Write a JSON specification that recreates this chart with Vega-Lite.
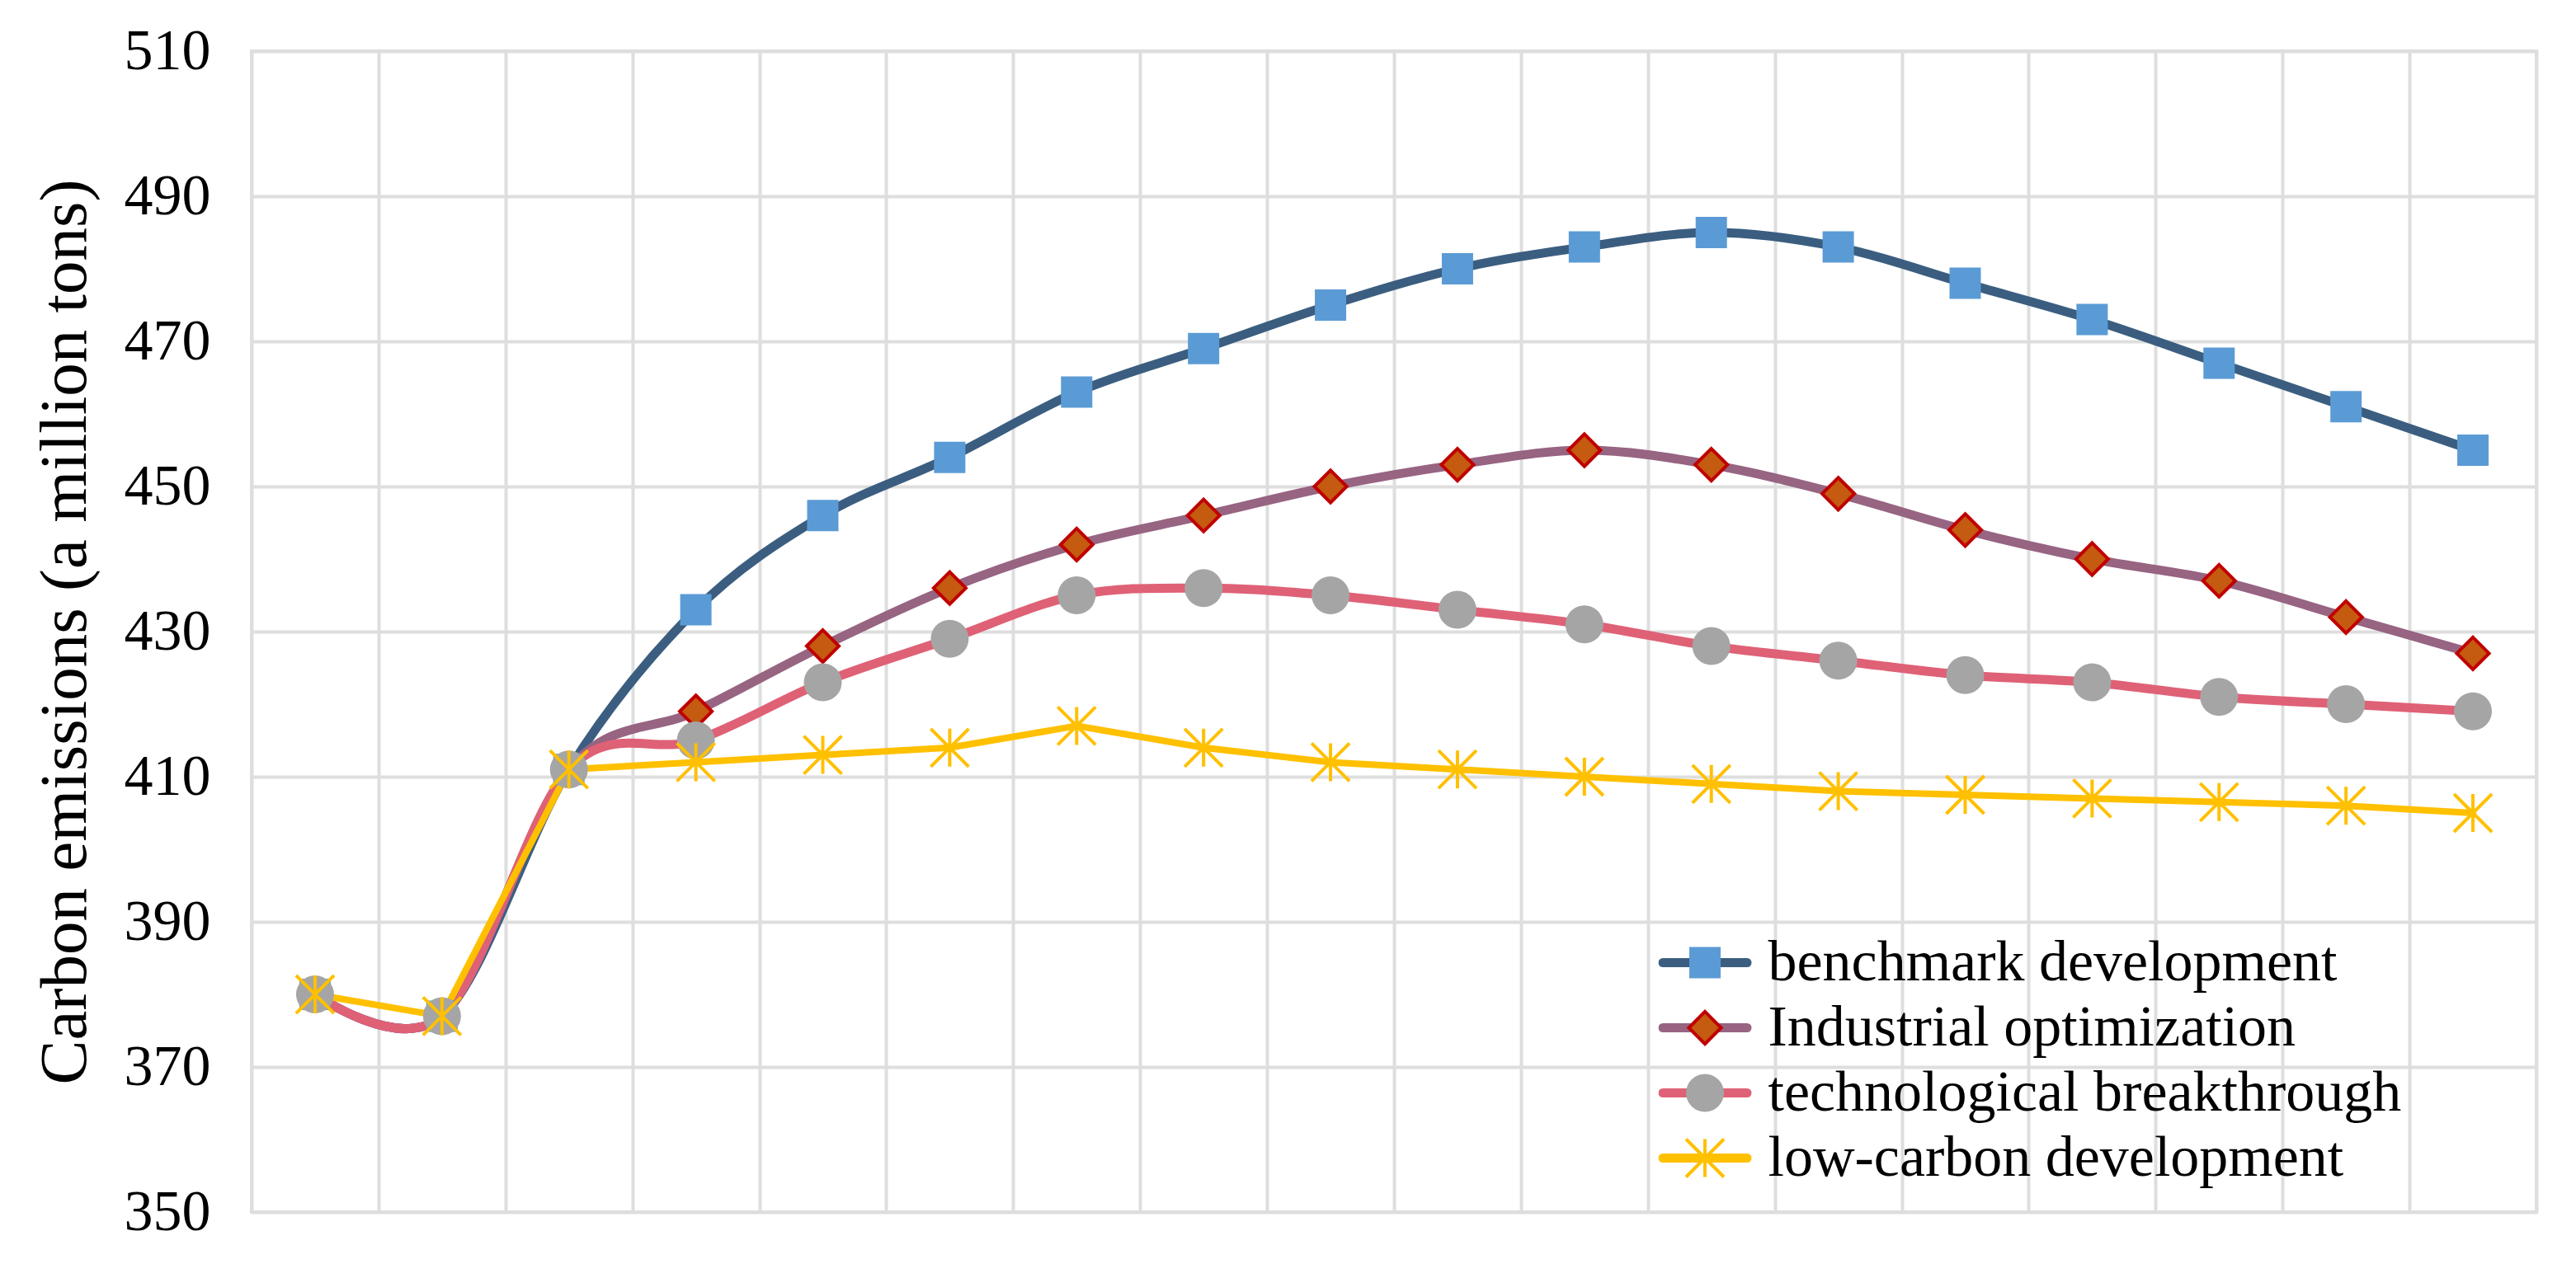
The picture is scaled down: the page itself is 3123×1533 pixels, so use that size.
{
  "$schema": "https://vega.github.io/schema/vega-lite/v6.json",
  "width": 2770,
  "height": 1408,
  "autosize": "none",
  "padding": {"left": 305, "top": 62, "right": 48, "bottom": 63},
  "background": "white",
  "config": {
    "view": {"stroke": "#DEDEDE", "strokeWidth": 4},
    "font": "Liberation Serif",
    "axis": {"labelFont": "Liberation Serif", "titleFont": "Liberation Serif"},
    "legend": {"labelFont": "Liberation Serif", "titleFont": "Liberation Serif"}
  },
  "data": {
    "values": [
      {"t": 1, "series": "benchmark development", "value": 380},
      {"t": 2, "series": "benchmark development", "value": 377},
      {"t": 3, "series": "benchmark development", "value": 411},
      {"t": 4, "series": "benchmark development", "value": 433},
      {"t": 5, "series": "benchmark development", "value": 446},
      {"t": 6, "series": "benchmark development", "value": 454},
      {"t": 7, "series": "benchmark development", "value": 463},
      {"t": 8, "series": "benchmark development", "value": 469},
      {"t": 9, "series": "benchmark development", "value": 475},
      {"t": 10, "series": "benchmark development", "value": 480},
      {"t": 11, "series": "benchmark development", "value": 483},
      {"t": 12, "series": "benchmark development", "value": 485},
      {"t": 13, "series": "benchmark development", "value": 483},
      {"t": 14, "series": "benchmark development", "value": 478},
      {"t": 15, "series": "benchmark development", "value": 473},
      {"t": 16, "series": "benchmark development", "value": 467},
      {"t": 17, "series": "benchmark development", "value": 461},
      {"t": 18, "series": "benchmark development", "value": 455},
      {"t": 1, "series": "Industrial optimization", "value": 380},
      {"t": 2, "series": "Industrial optimization", "value": 377},
      {"t": 3, "series": "Industrial optimization", "value": 411},
      {"t": 4, "series": "Industrial optimization", "value": 419},
      {"t": 5, "series": "Industrial optimization", "value": 428},
      {"t": 6, "series": "Industrial optimization", "value": 436},
      {"t": 7, "series": "Industrial optimization", "value": 442},
      {"t": 8, "series": "Industrial optimization", "value": 446},
      {"t": 9, "series": "Industrial optimization", "value": 450},
      {"t": 10, "series": "Industrial optimization", "value": 453},
      {"t": 11, "series": "Industrial optimization", "value": 455},
      {"t": 12, "series": "Industrial optimization", "value": 453},
      {"t": 13, "series": "Industrial optimization", "value": 449},
      {"t": 14, "series": "Industrial optimization", "value": 444},
      {"t": 15, "series": "Industrial optimization", "value": 440},
      {"t": 16, "series": "Industrial optimization", "value": 437},
      {"t": 17, "series": "Industrial optimization", "value": 432},
      {"t": 18, "series": "Industrial optimization", "value": 427},
      {"t": 1, "series": "technological breakthrough", "value": 380},
      {"t": 2, "series": "technological breakthrough", "value": 377},
      {"t": 3, "series": "technological breakthrough", "value": 411},
      {"t": 4, "series": "technological breakthrough", "value": 415},
      {"t": 5, "series": "technological breakthrough", "value": 423},
      {"t": 6, "series": "technological breakthrough", "value": 429},
      {"t": 7, "series": "technological breakthrough", "value": 435},
      {"t": 8, "series": "technological breakthrough", "value": 436},
      {"t": 9, "series": "technological breakthrough", "value": 435},
      {"t": 10, "series": "technological breakthrough", "value": 433},
      {"t": 11, "series": "technological breakthrough", "value": 431},
      {"t": 12, "series": "technological breakthrough", "value": 428},
      {"t": 13, "series": "technological breakthrough", "value": 426},
      {"t": 14, "series": "technological breakthrough", "value": 424},
      {"t": 15, "series": "technological breakthrough", "value": 423},
      {"t": 16, "series": "technological breakthrough", "value": 421},
      {"t": 17, "series": "technological breakthrough", "value": 420},
      {"t": 18, "series": "technological breakthrough", "value": 419},
      {"t": 1, "series": "low-carbon development", "value": 380},
      {"t": 2, "series": "low-carbon development", "value": 377},
      {"t": 3, "series": "low-carbon development", "value": 411},
      {"t": 4, "series": "low-carbon development", "value": 412},
      {"t": 5, "series": "low-carbon development", "value": 413},
      {"t": 6, "series": "low-carbon development", "value": 414},
      {"t": 7, "series": "low-carbon development", "value": 417},
      {"t": 8, "series": "low-carbon development", "value": 414},
      {"t": 9, "series": "low-carbon development", "value": 412},
      {"t": 10, "series": "low-carbon development", "value": 411},
      {"t": 11, "series": "low-carbon development", "value": 410},
      {"t": 12, "series": "low-carbon development", "value": 409},
      {"t": 13, "series": "low-carbon development", "value": 408},
      {"t": 14, "series": "low-carbon development", "value": 407.5},
      {"t": 15, "series": "low-carbon development", "value": 407},
      {"t": 16, "series": "low-carbon development", "value": 406.5},
      {"t": 17, "series": "low-carbon development", "value": 406},
      {"t": 18, "series": "low-carbon development", "value": 405}
    ]
  },
  "encoding": {
    "x": {
      "field": "t",
      "type": "ordinal",
      "scale": {"type": "band", "paddingInner": 0, "paddingOuter": 0},
      "axis": {
        "labels": false,
        "ticks": false,
        "domain": false,
        "title": null,
        "grid": true,
        "gridColor": "#DEDEDE",
        "gridWidth": 4,
        "tickBand": "extent"
      }
    },
    "y": {
      "field": "value",
      "type": "quantitative",
      "scale": {"domain": [350, 510], "nice": false, "zero": false},
      "axis": {
        "values": [350, 370, 390, 410, 430, 450, 470, 490, 510],
        "domain": false,
        "ticks": false,
        "tickSize": 0,
        "labelPadding": 50,
        "labelFontSize": 70,
        "labelColor": "#000000",
        "grid": true,
        "gridColor": "#DEDEDE",
        "gridWidth": 4,
        "title": "Carbon emissions (a million tons)",
        "titleFontSize": 81,
        "titleFontWeight": "normal",
        "titleColor": "#000000",
        "titlePadding": 30
      }
    }
  },
  "layer": [
    {
      "transform": [{"filter": "datum.series != 'low-carbon development'"}],
      "mark": {"type": "line", "interpolate": "cardinal", "strokeWidth": 11, "strokeCap": "round"},
      "encoding": {
        "color": {
          "field": "series",
          "type": "nominal",
          "scale": {
            "domain": {"expr": "['benchmark development', 'Industrial optimization', 'technological breakthrough', 'low-carbon development']"},
            "range": ["#3B5E80", "#976482", "#DF6176", "#FFC000"]
          },
          "legend": {
            "orient": "none",
            "legendX": 1705.5,
            "legendY": 1066,
            "direction": "vertical",
            "title": null,
            "padding": 0,
            "clipHeight": 79,
            "symbolType": "stroke",
            "symbolSize": 10404,
            "symbolStrokeWidth": 11,
            "labelFontSize": 70,
            "labelColor": "#000000",
            "labelLimit": 3000,
            "labelOffset": 20,
            "rowPadding": 0,
            "symbolOpacity": 1,
            "encode": {"symbols": {"update": {"strokeCap": {"value": "round"}}}}
          }
        }
      }
    },
    {
      "transform": [{"filter": "datum.series == 'low-carbon development'"}],
      "mark": {"type": "line", "interpolate": "linear", "strokeWidth": 8, "strokeCap": "round", "color": "#FFC000"}
    },
    {
      "mark": {"type": "point", "filled": true, "opacity": 1, "size": 2116, "strokeWidth": 4},
      "encoding": {
        "shape": {
          "field": "series",
          "type": "nominal",
          "scale": {
            "domain": ["benchmark development", "Industrial optimization", "technological breakthrough", "low-carbon development"],
            "range": [
              "M-0.826,-0.826H0.826V0.826H-0.826Z",
              "M0,-0.85L0.85,0L0,0.85L-0.85,0Z",
              "circle",
              "M0,-1V1M-1,-1L1,1M-1,1L1,-1"
            ]
          },
          "legend": {
            "orient": "none",
            "legendX": 1727,
            "legendY": 1066,
            "direction": "vertical",
            "title": null,
            "padding": 0,
            "clipHeight": 79,
            "symbolSize": 2116,
            "symbolStrokeWidth": 4,
            "symbolOpacity": 1,
            "labelFontSize": 70,
            "labelColor": "transparent",
            "labelExpr": "''",
            "labelLimit": 3000,
            "rowPadding": 0
          }
        },
        "fill": {
          "field": "series",
          "type": "nominal",
          "scale": {
            "domain": ["benchmark development", "Industrial optimization", "technological breakthrough", "low-carbon development"],
            "range": ["#5B9BD5", "#C55A11", "#A5A5A5", "transparent"]
          },
          "legend": {
            "orient": "none",
            "legendX": 1727,
            "legendY": 1066,
            "direction": "vertical",
            "title": null,
            "padding": 0,
            "clipHeight": 79,
            "symbolSize": 2116,
            "symbolStrokeWidth": 4,
            "symbolOpacity": 1,
            "labelFontSize": 70,
            "labelColor": "transparent",
            "labelExpr": "''",
            "labelLimit": 3000,
            "rowPadding": 0
          }
        },
        "stroke": {
          "field": "series",
          "type": "nominal",
          "scale": {
            "domain": ["benchmark development", "Industrial optimization", "technological breakthrough", "low-carbon development"],
            "range": ["transparent", "#C00000", "transparent", "#FFC000"]
          },
          "legend": {
            "orient": "none",
            "legendX": 1727,
            "legendY": 1066,
            "direction": "vertical",
            "title": null,
            "padding": 0,
            "clipHeight": 79,
            "symbolSize": 2116,
            "symbolStrokeWidth": 4,
            "symbolOpacity": 1,
            "labelFontSize": 70,
            "labelColor": "transparent",
            "labelExpr": "''",
            "labelLimit": 3000,
            "rowPadding": 0
          }
        }
      }
    }
  ]
}
